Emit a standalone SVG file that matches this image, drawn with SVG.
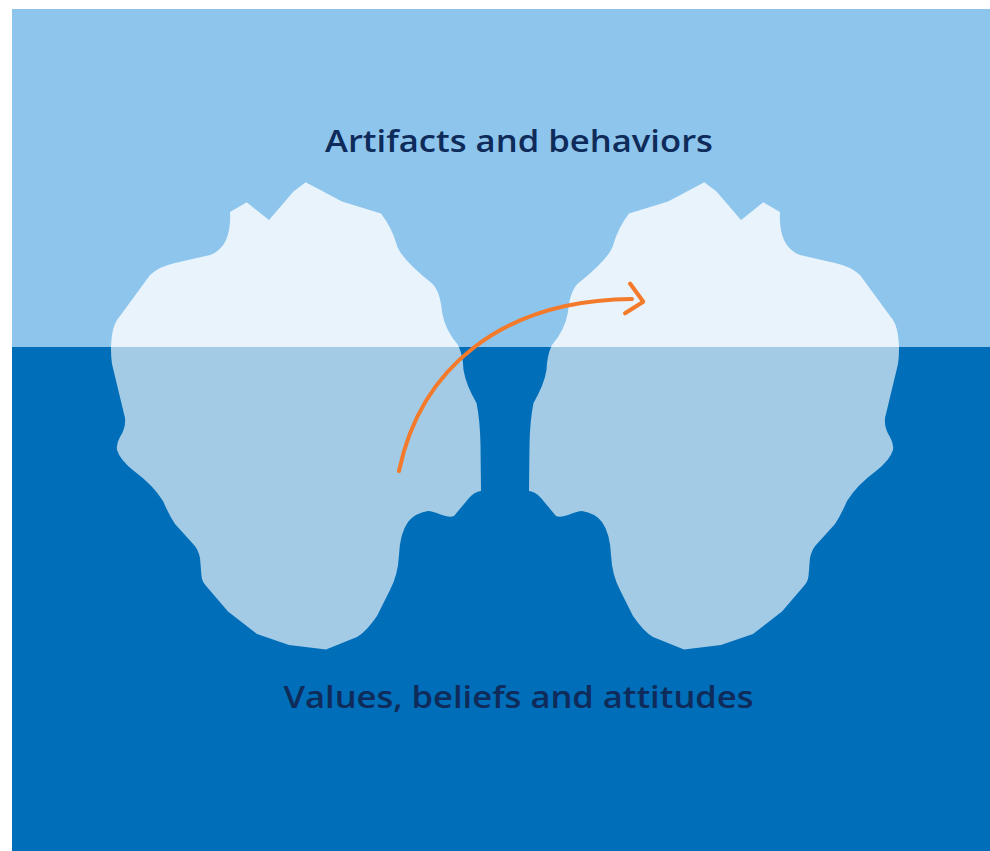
<svg xmlns="http://www.w3.org/2000/svg" xmlns:xlink="http://www.w3.org/1999/xlink" width="990" height="851" viewBox="0 0 990 851">
  <style>
    .label { font-family: "Open Sans", "Liberation Sans", sans-serif; font-weight: 600; font-size: 31px; fill: #0e2b5a; text-anchor: middle; }
    .ice-top { fill: #e8f3fb; }
    .ice-low { fill: #a3cbe5; }
    .arrow { fill: none; stroke: #f47a2b; stroke-width: 4; stroke-linecap: round; stroke-linejoin: round; }
  </style>
  <defs>
    <!-- outline of one iceberg; the second one is its mirror image -->
    <path id="berg" d="M305.7,182.3 L342,201.5 L381,213.5 Q392,228 396.5,244 Q400,258 431.5,283 Q440,290 442,312 Q445,330 458,345 Q463,355 463.5,370 Q466,385 476.5,403 Q480,420 480.5,445 L481,491 Q474,492 469,498 L454,516 Q450,518 442,515 Q432,511 428,511 Q415,513 408,522 Q400,533 399,555 Q398,575 390,590 L377,616 Q366,632 357,637 L326,649.5 L289,645 L257,634 L228,611.5 L207,587 Q202,582 201.5,576 L200,558 Q198,549 194,545 L175,524 Q169,515 163,501 Q153,485 134,471 Q120,460 117,450 Q116,444 120,437 Q126,428 125,418 L112,364 Q110,350 112,335 Q114,322 120,316 L150,275 Q160,266 175,263 L210,255 Q221,251 226,240 Q231,228 230,212 L246.7,202.3 L269,220 L293.5,191.5 Z"/>
    <clipPath id="above"><rect x="0" y="0" width="990" height="347"/></clipPath>
    <clipPath id="below"><rect x="0" y="347" width="990" height="504"/></clipPath>
  </defs>

  <!-- sky and sea -->
  <g id="background">
    <rect x="12" y="9" width="978" height="338" fill="#8dc5ec"/>
    <rect x="12" y="347" width="978" height="504" fill="#006eb9"/>
  </g>

  <g id="berg-left">
    <use xlink:href="#berg" class="ice-top" clip-path="url(#above)"/>
    <use xlink:href="#berg" class="ice-low" clip-path="url(#below)"/>
  </g>

  <g id="berg-right">
    <g transform="translate(1010 0) scale(-1 1)">
      <use xlink:href="#berg" class="ice-top" clip-path="url(#above)"/>
      <use xlink:href="#berg" class="ice-low" clip-path="url(#below)"/>
    </g>
  </g>

  <g id="connectors">
    <path class="arrow" d="M399,471 C420,370 500,300 632,299"/>
    <path class="arrow" d="M630,283.5 L643.3,301.7 L625,313.3"/>
  </g>

  <g id="labels">
    <text class="label" x="519" y="152" textLength="388" lengthAdjust="spacingAndGlyphs">Artifacts and behaviors</text>
    <text class="label" x="518.5" y="708" textLength="470" lengthAdjust="spacingAndGlyphs">Values, beliefs and attitudes</text>
  </g>
</svg>
